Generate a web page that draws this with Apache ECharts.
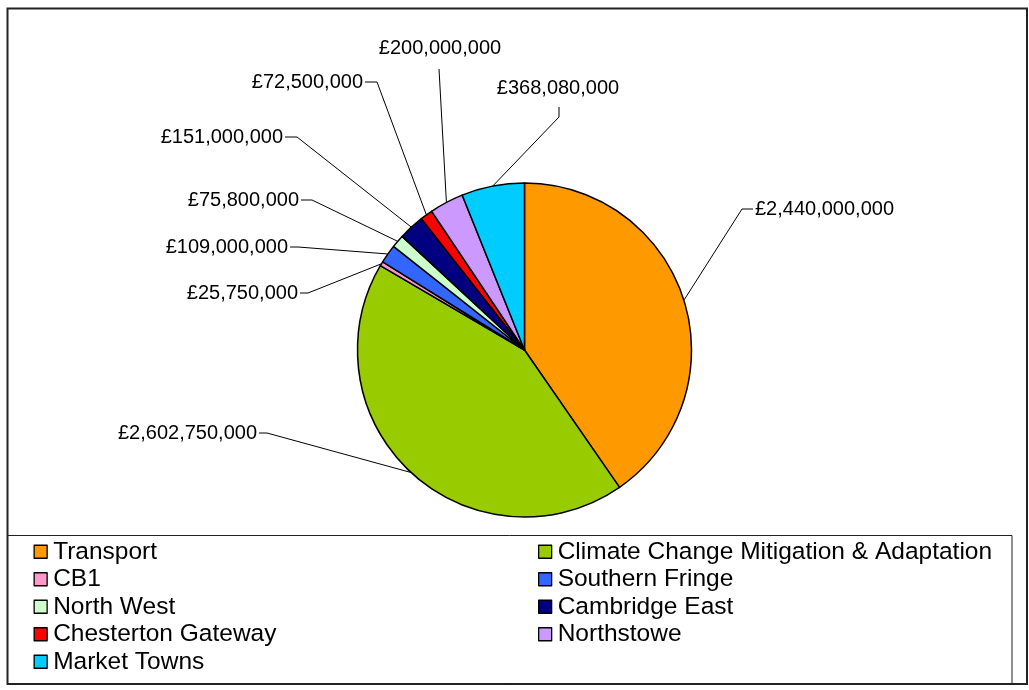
<!DOCTYPE html>
<html>
<head>
<meta charset="utf-8">
<script src="https://cdn.jsdelivr.net/npm/echarts@6/dist/echarts.min.js"></script>
<style>
html,body{margin:0;padding:0;background:#fff;}
#chart{width:1029px;height:690px;}
</style>
</head>
<body>
<div id="chart"></div>
<script>
// ---- data ----
const categories = ['Transport','Climate Change Mitigation & Adaptation','CB1','Southern Fringe','North West','Cambridge East','Chesterton Gateway','Northstowe','Market Towns'];
const values = [2440000000, 2602750000, 25750000, 109000000, 75800000, 151000000, 72500000, 200000000, 368080000];
const colors = ['#FF9900','#99CC00','#FF99CC','#3366FF','#CCFFCC','#000080','#FF0000','#CC99FF','#00CCFF'];

// ---- label layout (positions, not data) ----
// [labelX, labelY, align, elbowX, elbowY, endX, endY]
const labelPos = [
  [755, 209, 'left',   742, 209, 753, 209],
  [257, 433, 'right',  267, 433, 259, 433],
  [298, 293, 'right',  308, 293, 300, 293],
  [288, 247, 'right',  298, 247, 290, 247],
  [299, 200, 'right',  312, 200, 301, 200],
  [283, 137, 'right',  297, 137, 285, 137],
  [363,  82, 'right',  377,  82, 365,  82],
  [440,  48, 'center', 439,  69, 439,  69],
  [558,  88, 'center', 559, 117, 559, 107]
];

function fmt(v){
  const s = String(Math.round(v));
  return '£' + s.replace(/\B(?=(\d{3})+(?!\d))/g, ',');
}

const FONT = '"Liberation Sans", Arial, sans-serif';
const CX = 524.5, CY = 350, R = 167;

const chart = echarts.init(document.getElementById('chart'), null, {renderer:'canvas'});

const pieData = categories.map((c,i)=>({name:c, value:values[i], itemStyle:{color:colors[i]}}));
const total = values.reduce((a,b)=>a+b,0);

function arcPoint(idx){
  let cum = 0;
  for(let i=0;i<idx;i++) cum += values[i];
  const mid = (cum + values[idx]/2)/total*Math.PI*2;
  return [CX + R*Math.sin(mid), CY - R*Math.cos(mid)];
}

const legendCommon = {
  orient:'vertical',
  padding:0,
  height:150,
  itemWidth:13, itemHeight:13,
  itemGap:0,
  icon:'rect',
  itemStyle:{borderColor:'#000', borderWidth:1.3},
  textStyle:{fontFamily:FONT, fontSize:24.5, color:'#000', lineHeight:27.5, padding:[0,0,0,1]},
  selectedMode:false
};

const option = {
  backgroundColor:'#fff',
  animation:false,
  graphic:[
    {type:'rect', shape:{x:7.5, y:8.5, width:1019.5, height:675.5}, style:{fill:'none', stroke:'#222', lineWidth:2}, silent:true, z:-1},
    {type:'rect', shape:{x:7.5, y:535.5, width:1004.5, height:148.5}, style:{fill:'none', stroke:'#222', lineWidth:1}, silent:true, z:-1}
  ],
  legend:[
    Object.assign({left:33.5, top:538, data:categories.filter((c,i)=>i%2===0)}, legendCommon),
    Object.assign({left:538, top:538, data:categories.filter((c,i)=>i%2===1)}, legendCommon)
  ],
  series:[{
    type:'pie',
    center:[CX, CY],
    radius:R,
    startAngle:90,
    clockwise:true,
    avoidLabelOverlap:false,
    itemStyle:{borderColor:'#000', borderWidth:1.5},
    emphasis:{disabled:true},
    label:{
      show:true,
      position:'outside',
      formatter:p=>fmt(p.value),
      fontFamily:FONT, fontSize:20, color:'#000'
    },
    labelLine:{show:true, length:20, length2:10, lineStyle:{color:'#000', width:1}},
    labelLayout:function(params){
      const i = params.dataIndex;
      const lp = labelPos[i];
      let p0 = (params.labelLinePoints && params.labelLinePoints[0]) ? params.labelLinePoints[0] : arcPoint(i);
      return {
        x: lp[0], y: lp[1],
        align: lp[2], verticalAlign:'middle',
        labelLinePoints:[p0, [lp[3], lp[4]], [lp[5], lp[6]]]
      };
    },
    data:pieData
  }]
};
chart.setOption(option);
</script>
</body>
</html>
